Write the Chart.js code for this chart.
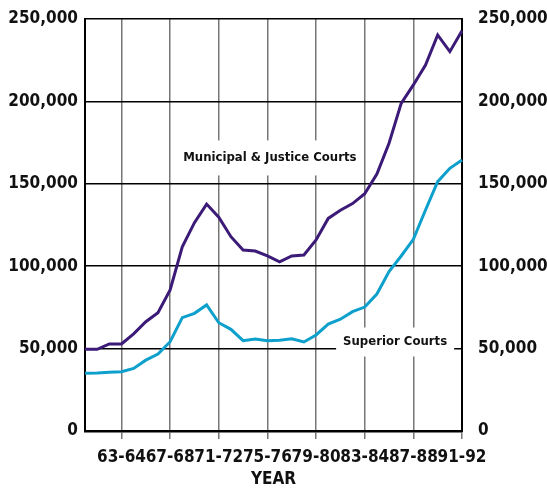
<!DOCTYPE html>
<html>
<head>
<meta charset="utf-8">
<title>Court filings by year</title>
<script src="https://cdn.jsdelivr.net/npm/chart.js@4/dist/chart.umd.min.js"></script>
<style>
  html, body { margin: 0; padding: 0; background: #fff; }
  canvas { display: block; }
</style>
</head>
<body>
<canvas id="myChart" width="547" height="490"></canvas>
<script>
'use strict';

let years = ['60-61', '61-62', '62-63', '63-64', '64-65', '65-66', '66-67', '67-68',
  '68-69', '69-70', '70-71', '71-72', '72-73', '73-74', '74-75', '75-76',
  '76-77', '77-78', '78-79', '79-80', '80-81', '81-82', '82-83', '83-84',
  '84-85', '85-86', '86-87', '87-88', '88-89', '89-90', '90-91', '91-92'];

let municipal = [49600, 49600, 52800, 52800, 58900, 66300, 71800, 85600,
  111800, 126400, 137700, 129700, 117900, 109800, 109200, 106300,
  102700, 106200, 106800, 115900, 129000, 134000, 138000, 144000,
  155900, 174600, 198800, 210000, 222000, 240300, 230200, 242900];

let superior = [35000, 35200, 35600, 36000, 38000, 43000, 46700, 54200,
  68800, 71400, 76500, 65700, 61700, 54800, 55800, 54700,
  55000, 56000, 54000, 58300, 64900, 67800, 72400, 75200,
  83100, 96700, 106200, 116300, 134100, 151300, 159400, 164400];

let yTicks = [0, 50000, 100000, 150000, 200000, 250000];

let fontFamily = "'DejaVu Sans Condensed', 'DejaVu Sans', sans-serif";
let purple = '#3c1a78';
let cyan = '#0ea0cc';

function commas(value) {
  return value.toLocaleString('en-US');
}

function fixYAxis(scale) {
  scale.width = 85;
  scale.paddingTop = 0;
  scale.paddingBottom = 0;
}

// labels for the two lines, each sat on a white box that cuts the grid
let seriesLabels = {
  id: 'seriesLabels',
  beforeDatasetsDraw(chart) {
    let ctx = chart.ctx;
    let x = chart.scales.x;
    let y = chart.scales.y;
    let items = [
      { text: 'Municipal & Justice Courts', cx: x.getPixelForValue(15.2), cy: y.getPixelForValue(165700), w: 180, h: 35 },
      { text: 'Superior Courts', cx: x.getPixelForValue(25.5), cy: y.getPixelForValue(54000), w: 118, h: 29 }
    ];
    ctx.save();
    ctx.font = 'bold 13px ' + fontFamily;
    ctx.textAlign = 'center';
    ctx.textBaseline = 'middle';
    items.forEach(function (item) {
      ctx.fillStyle = '#fff';
      ctx.fillRect(item.cx - item.w / 2, item.cy - item.h / 2, item.w, item.h);
      ctx.fillStyle = '#111';
      ctx.fillText(item.text, item.cx, item.cy);
    });
    ctx.restore();
  }
};

function chartRender() {
  let ctx = document.getElementById('myChart').getContext('2d');
  let myChart = new Chart(ctx, {
    type: 'line',
    data: {
      labels: years,
      datasets: [{
        label: 'Municipal & Justice Courts',
        data: municipal,
        borderColor: purple,
        borderWidth: 3,
        pointRadius: 0,
        tension: 0
      }, {
        label: 'Superior Courts',
        data: superior,
        borderColor: cyan,
        borderWidth: 3,
        pointRadius: 0,
        tension: 0
      }]
    },
    options: {
      responsive: false,
      animation: false,
      layout: {
        padding: { top: 19, left: 0, right: 0, bottom: 0 }
      },
      plugins: {
        legend: { display: false },
        tooltip: { enabled: false }
      },
      scales: {
        x: {
          ticks: {
            autoSkip: false,
            maxRotation: 0,
            padding: 8,
            color: '#111',
            font: { family: fontFamily, size: 17, weight: 'bold' },
            callback: function (value, index) {
              return index % 4 === 3 ? years[index] : '';
            }
          },
          grid: {
            lineWidth: 1.5,
            tickLength: 8,
            color: function (context) {
              return context.index % 4 === 3 ? '#777' : 'rgba(0,0,0,0)';
            }
          },
          border: { color: '#000', width: 2.5 },
          title: {
            display: true,
            text: 'YEAR',
            color: '#111',
            padding: { top: 0, bottom: 0 },
            font: { family: fontFamily, size: 17, weight: 'bold' }
          },
          afterFit: function (scale) {
            scale.height = 59;
          }
        },
        y: {
          position: 'left',
          min: 0,
          max: 250000,
          afterBuildTicks: function (scale) {
            scale.ticks = yTicks.map(function (v) { return { value: v }; });
          },
          ticks: {
            padding: 7,
            color: '#111',
            font: { family: fontFamily, size: 17, weight: 'bold' },
            callback: commas
          },
          grid: { color: '#000', lineWidth: 1.5, drawTicks: false },
          border: { color: '#000', width: 2 },
          afterFit: fixYAxis
        },
        y2: {
          position: 'right',
          min: 0,
          max: 250000,
          afterBuildTicks: function (scale) {
            scale.ticks = yTicks.map(function (v) { return { value: v }; });
          },
          ticks: {
            padding: 16,
            color: '#111',
            font: { family: fontFamily, size: 17, weight: 'bold' },
            callback: commas
          },
          grid: { display: false, drawTicks: false },
          border: { color: '#000', width: 2 },
          afterFit: fixYAxis
        }
      }
    },
    plugins: [seriesLabels]
  });
  return myChart;
}

chartRender();
</script>
</body>
</html>
